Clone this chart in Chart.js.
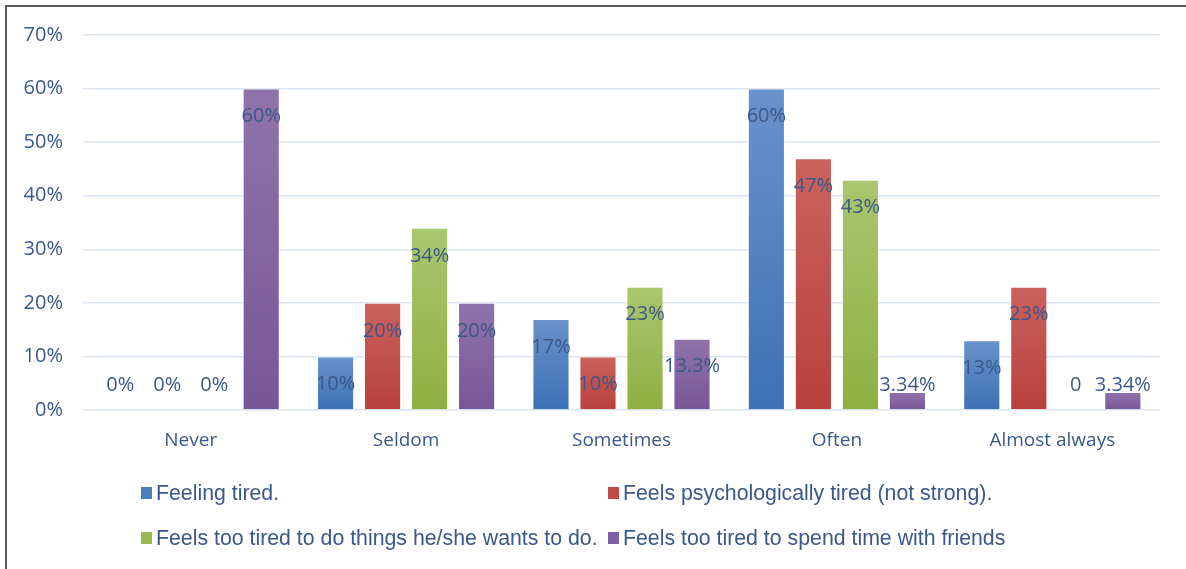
<!DOCTYPE html>
<html>
<head>
<meta charset="utf-8">
<script src="https://cdn.jsdelivr.net/npm/chart.js@4.4.1/dist/chart.umd.min.js"></script>
<style>
  html, body { margin: 0; padding: 0; background: #fff; }
  #wrap { position: relative; width: 1186px; height: 569px; overflow: hidden; }
  #frame { position: absolute; left: 5px; top: 5px; width: 1200px; height: 600px;
           border-top: 2px solid #5a5a5a; border-left: 2px solid #5a5a5a; box-sizing: border-box; }
  #myChart { position: absolute; left: 0; top: 0; }
</style>
</head>
<body>
<div id="wrap">
  <div id="frame"></div>
  <canvas id="myChart" width="1186" height="569"></canvas>
</div>
<script>
const categories = ['Never', 'Seldom', 'Sometimes', 'Often', 'Almost always'];
const seriesNames = [
    'Feeling tired.',
    'Feels psychologically tired (not strong).',
    'Feels too tired to do things he/she wants to do.',
    'Feels too tired to spend time with friends'
];
const feelingTired = [0, 10, 17, 60, 13];
const psychTired = [0, 20, 10, 47, 23];
const tooTiredThings = [0, 34, 23, 43, 0];
const tooTiredFriends = [60, 20, 13.3, 3.34, 3.34];

const labelsTired = ['0%', '10%', '17%', '60%', '13%'];
const labelsPsych = ['0%', '20%', '10%', '47%', '23%'];
const labelsThings = ['0%', '34%', '23%', '43%', '0'];
const labelsFriends = ['60%', '20%', '13.3%', '3.34%', '3.34%'];

const yTicks = [0, 10, 20, 30, 40, 50, 60, 70];

const textColor = '#3b5888';

// top / bottom gradient colours for each series
const shades = [
    ['#6a92cc', '#3c71b6'],
    ['#ca625e', '#b9403c'],
    ['#aac66f', '#8eb042'],
    ['#8f74ab', '#775697']
];
const legendColors = ['#4a7ebb', '#be4b48', '#98b954', '#7d60a0'];

function barFill(i) {
    return function (ctx) {
        const chart = ctx.chart;
        const y = chart.scales && chart.scales.y;
        if (!y || ctx.parsed == null || !chart.chartArea) return shades[i][1];
        const top = y.getPixelForValue(ctx.parsed.y);
        const base = y.getPixelForValue(0);
        if (base - top < 1) return shades[i][1];
        const g = chart.ctx.createLinearGradient(0, top, 0, base);
        g.addColorStop(0, shades[i][0]);
        g.addColorStop(1, shades[i][1]);
        return g;
    };
}

const valueLabels = [labelsTired, labelsPsych, labelsThings, labelsFriends];

const barLabelPlugin = {
    id: 'barLabels',
    afterDatasetsDraw(chart) {
        const c = chart.ctx;
        const base = chart.scales.y.getPixelForValue(0);
        c.save();
        c.font = '20px "Open Sans", sans-serif';
        c.fillStyle = textColor;
        c.textAlign = 'center';
        c.textBaseline = 'middle';
        chart.data.datasets.forEach((ds, di) => {
            chart.getDatasetMeta(di).data.forEach((bar, i) => {
                const y = Math.min(bar.y + 28, base - 25);
                c.fillText(valueLabels[di][i], bar.x, y);
            });
        });
        c.restore();
    }
};

const legendPlugin = {
    id: 'twoColLegend',
    afterDraw(chart) {
        const c = chart.ctx;
        const spots = [[141, 493], [608, 493], [141, 538], [608, 538]];
        c.save();
        c.font = '21.3px "Liberation Sans Narrow", "Arial Narrow", sans-serif';
        c.textBaseline = 'middle';
        c.textAlign = 'left';
        seriesNames.forEach((name, i) => {
            const [x, y] = spots[i];
            c.fillStyle = legendColors[i];
            c.fillRect(x, y - 6, 11, 12);
            c.fillStyle = textColor;
            c.fillText(name, x + 15, y + 1);
        });
        c.restore();
    }
};

const ctx = document.getElementById('myChart');

const myChart = new Chart(ctx, {
    type: 'bar',
    data: {
        labels: categories,
        datasets: [feelingTired, psychTired, tooTiredThings, tooTiredFriends].map((vals, i) => ({
            label: seriesNames[i],
            data: vals,
            backgroundColor: barFill(i),
            borderColor: 'rgba(255,255,255,0.55)',
            borderWidth: 1,
            categoryPercentage: 0.873,
            barPercentage: 0.79
        }))
    },
    options: {
        responsive: false,
        animation: false,
        layout: { padding: { top: 35, right: 26, left: 0, bottom: 0 } },
        plugins: {
            legend: { display: false },
            tooltip: { enabled: false }
        },
        scales: {
            x: {
                grid: { display: false, drawTicks: false },
                border: { display: false },
                ticks: {
                    color: textColor,
                    font: { family: 'Open Sans', size: 19 },
                    padding: 19,
                    maxRotation: 0
                },
                afterFit(scale) { scale.height = 159; }
            },
            y: {
                min: 0,
                max: 70,
                afterBuildTicks(scale) { scale.ticks = yTicks.map(v => ({ value: v })); },
                grid: { color: '#dbe5f1', lineWidth: 1.5, drawTicks: false },
                border: { display: false },
                ticks: {
                    color: textColor,
                    font: { family: 'Open Sans', size: 20 },
                    padding: 20,
                    callback: v => v + '%'
                },
                afterFit(scale) { scale.width = 83; }
            }
        }
    },
    plugins: [barLabelPlugin, legendPlugin]
});
</script>
</body>
</html>
